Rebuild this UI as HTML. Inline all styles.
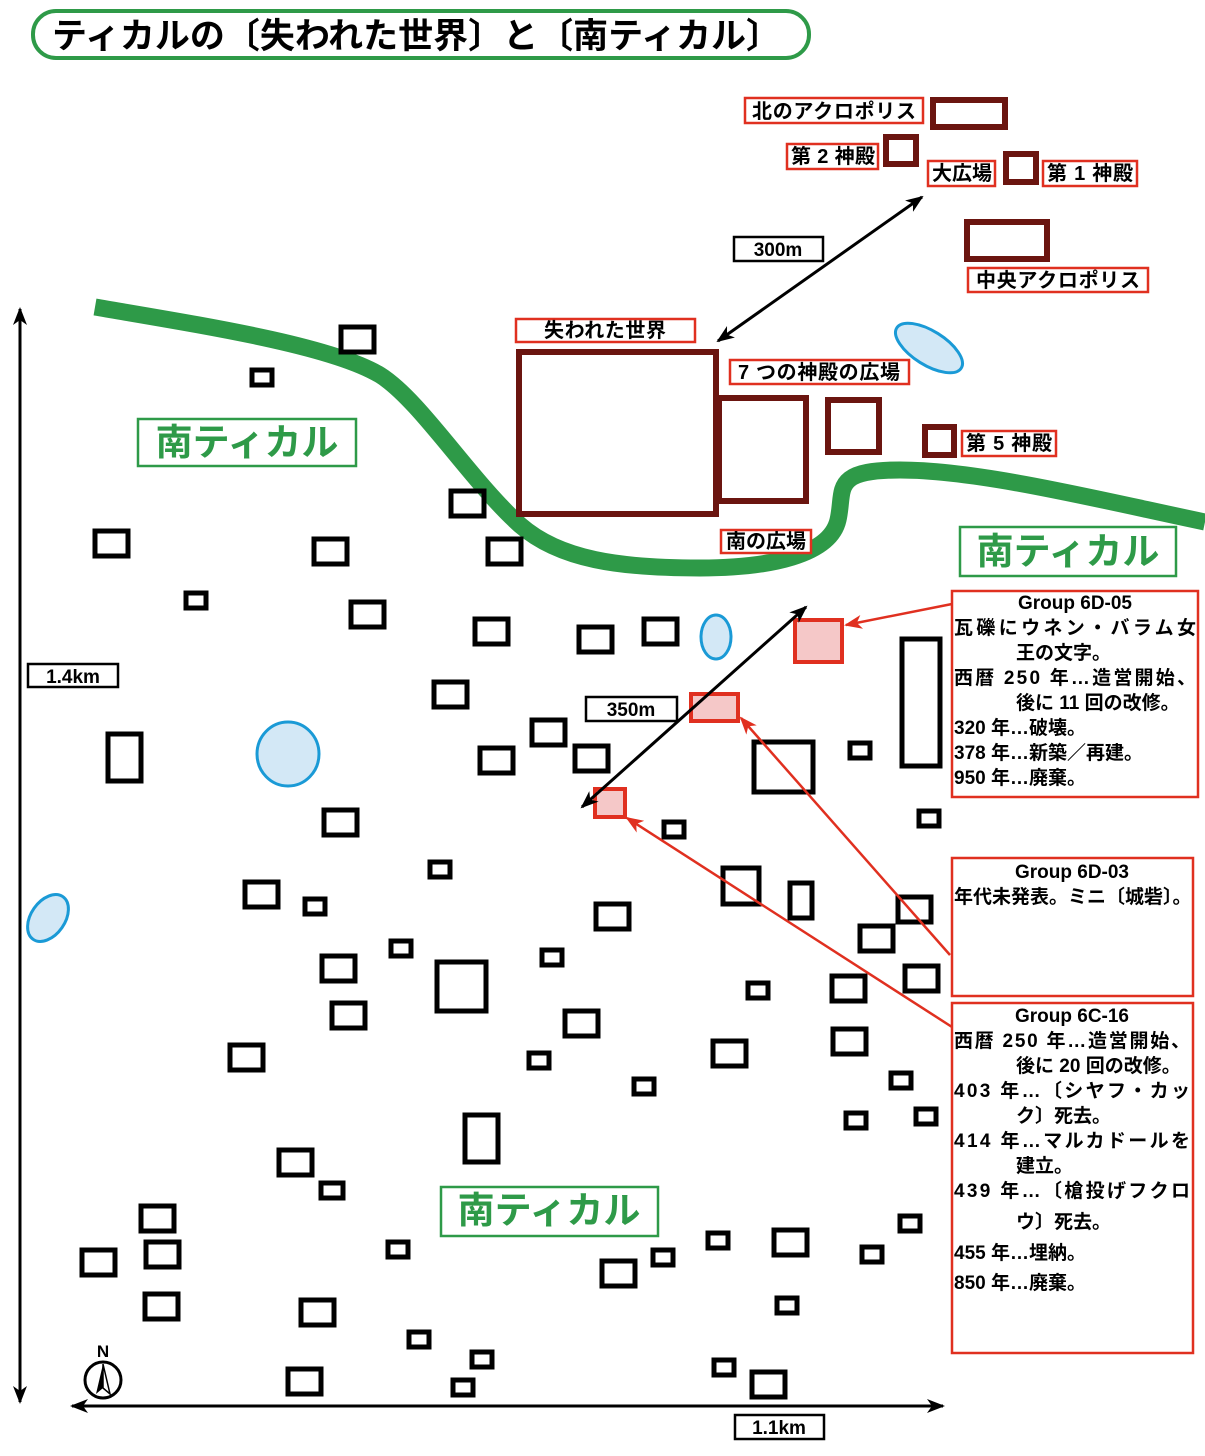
<!DOCTYPE html>
<html><head><meta charset="utf-8"><style>
body{margin:0;background:#fff;}
svg text{font-family:"Liberation Sans","Noto Sans CJK JP",sans-serif;font-weight:bold;}
</style></head><body>
<svg width="1205" height="1451" viewBox="0 0 1205 1451" xmlns="http://www.w3.org/2000/svg">
<defs>
<marker id="ar" markerWidth="18" markerHeight="14" refX="16" refY="7" orient="auto" markerUnits="userSpaceOnUse"><path d="M0,0 L18,7 L0,14 L5,7z" fill="#e03020"/></marker>
<marker id="ak" markerWidth="18" markerHeight="14" refX="16" refY="7" orient="auto-start-reverse" markerUnits="userSpaceOnUse"><path d="M0,0 L18,7 L0,14 L5,7z" fill="#000"/></marker>
</defs>
<rect x="33" y="11" width="776" height="47" rx="23" fill="#fff" stroke="#2e9a48" stroke-width="4"/>
<text x="52" y="48" font-size="35" fill="#000">ティカルの〔失われた世界〕と〔南ティカル〕</text>

<path d="M95,307 C200,325 330,345 380,375 C420,400 470,480 520,525 C560,560 620,568 700,568 C770,568 830,555 838,520 C845,490 830,470 900,470 C980,470 1100,500 1205,522" fill="none" stroke="#2e9a48" stroke-width="17"/>

<g fill="#d3e8f6" stroke="#1a9ad6" stroke-width="3">
<ellipse cx="929" cy="348" rx="38" ry="17" transform="rotate(32 929 348)"/>
<ellipse cx="716" cy="637" rx="15" ry="22"/>
<ellipse cx="288" cy="754" rx="31" ry="32"/>
<ellipse cx="48" cy="918" rx="17" ry="26" transform="rotate(35 48 918)"/>
</g>

<g fill="none" stroke="#000" stroke-width="5">
<rect x="341" y="327" width="33" height="25"/><rect x="252" y="370" width="20" height="15"/>
<rect x="451" y="491" width="33" height="25"/><rect x="95" y="531" width="33" height="25"/>
<rect x="314" y="539" width="33" height="25"/><rect x="488" y="539" width="33" height="25"/>
<rect x="186" y="593" width="20" height="15"/><rect x="351" y="602" width="33" height="25"/>
<rect x="475" y="619" width="33" height="25"/><rect x="579" y="627" width="33" height="25"/>
<rect x="644" y="619" width="33" height="25"/><rect x="434" y="682" width="33" height="25"/>
<rect x="532" y="720" width="33" height="25"/><rect x="480" y="748" width="33" height="25"/>
<rect x="575" y="746" width="33" height="25"/><rect x="108" y="734" width="33" height="47"/>
<rect x="902" y="639" width="38" height="127"/><rect x="754" y="742" width="59" height="50"/>
<rect x="850" y="743" width="20" height="15"/><rect x="324" y="810" width="33" height="25"/>
<rect x="664" y="822" width="20" height="15"/><rect x="919" y="811" width="20" height="15"/>
<rect x="430" y="862" width="20" height="15"/><rect x="245" y="882" width="33" height="25"/>
<rect x="305" y="899" width="20" height="15"/><rect x="723" y="868" width="36" height="36"/>
<rect x="790" y="883" width="22" height="35"/><rect x="596" y="904" width="33" height="25"/>
<rect x="898" y="897" width="33" height="25"/><rect x="860" y="926" width="33" height="25"/>
<rect x="391" y="941" width="20" height="15"/><rect x="542" y="950" width="20" height="15"/>
<rect x="322" y="956" width="33" height="25"/><rect x="437" y="962" width="49" height="49"/>
<rect x="905" y="966" width="33" height="25"/><rect x="832" y="976" width="33" height="25"/>
<rect x="748" y="983" width="20" height="15"/><rect x="332" y="1003" width="33" height="25"/>
<rect x="565" y="1011" width="33" height="25"/><rect x="833" y="1029" width="33" height="25"/>
<rect x="230" y="1045" width="33" height="25"/><rect x="713" y="1041" width="33" height="25"/>
<rect x="529" y="1053" width="20" height="15"/><rect x="634" y="1079" width="20" height="15"/>
<rect x="891" y="1073" width="20" height="15"/><rect x="846" y="1113" width="20" height="15"/>
<rect x="916" y="1109" width="20" height="15"/><rect x="465" y="1115" width="33" height="47"/>
<rect x="279" y="1150" width="33" height="25"/><rect x="321" y="1183" width="22" height="15"/>
<rect x="141" y="1206" width="33" height="25"/><rect x="146" y="1242" width="33" height="25"/>
<rect x="82" y="1250" width="33" height="25"/><rect x="900" y="1216" width="20" height="15"/>
<rect x="388" y="1242" width="20" height="15"/><rect x="708" y="1233" width="20" height="15"/>
<rect x="774" y="1230" width="33" height="25"/><rect x="653" y="1250" width="20" height="15"/>
<rect x="862" y="1247" width="20" height="15"/><rect x="602" y="1261" width="33" height="25"/>
<rect x="145" y="1294" width="33" height="25"/><rect x="301" y="1300" width="33" height="25"/>
<rect x="777" y="1298" width="20" height="15"/><rect x="409" y="1332" width="20" height="15"/>
<rect x="472" y="1352" width="20" height="15"/><rect x="288" y="1369" width="33" height="25"/>
<rect x="714" y="1360" width="20" height="15"/><rect x="453" y="1380" width="20" height="15"/>
<rect x="752" y="1372" width="33" height="25"/>
</g>

<g fill="none" stroke="#6b1510" stroke-width="6">
<rect x="933" y="100" width="72" height="27"/><rect x="886" y="137" width="30" height="27"/>
<rect x="1006" y="154" width="30" height="28"/><rect x="967" y="222" width="80" height="37"/>
<rect x="519" y="352" width="197" height="162"/><rect x="719" y="398" width="87" height="103"/>
<rect x="828" y="400" width="51" height="52"/><rect x="925" y="427" width="29" height="28"/>
</g>

<g fill="#f5c8c8" stroke="#e03020" stroke-width="4">
<rect x="795" y="620" width="47" height="42"/><rect x="691" y="694" width="47" height="27"/>
<rect x="595" y="789" width="30" height="28"/>
</g>

<g fill="#fff" stroke="#e03020" stroke-width="2.5">
<rect x="745" y="98" width="178" height="25"/><rect x="787" y="144" width="91" height="25"/>
<rect x="928" y="161" width="67" height="25"/><rect x="1043" y="161" width="94" height="25"/>
<rect x="968" y="268" width="180" height="24"/><rect x="516" y="319" width="179" height="23"/>
<rect x="730" y="360" width="179" height="24"/><rect x="962" y="431" width="94" height="25"/>
<rect x="721" y="530" width="90" height="23"/>
</g>
<g font-size="20" fill="#000">
<text x="752" y="118" textLength="164">北のアクロポリス</text><text x="791" y="163" textLength="84">第 2 神殿</text>
<text x="932" y="180">大広場</text><text x="1047" y="180" textLength="86">第 1 神殿</text>
<text x="976" y="287" textLength="164">中央アクロポリス</text><text x="544" y="337" textLength="122">失われた世界</text>
<text x="738" y="379" textLength="162">7 つの神殿の広場</text><text x="966" y="450" textLength="86">第 5 神殿</text>
<text x="726" y="548">南の広場</text>
</g>

<g fill="#fff" stroke="#000" stroke-width="2.5">
<rect x="734" y="237" width="89" height="24"/><rect x="586" y="697" width="91" height="24"/>
<rect x="28" y="664" width="90" height="23"/><rect x="735" y="1415" width="89" height="24"/>
</g>
<g font-size="19" fill="#000" text-anchor="middle">
<text x="778" y="256">300m</text><text x="631" y="716">350m</text>
<text x="73" y="683">1.4km</text><text x="779" y="1434">1.1km</text>
</g>

<g fill="#fff" stroke="#2e9a48" stroke-width="2.5">
<rect x="138" y="419" width="218" height="47"/><rect x="960" y="527" width="216" height="49"/>
<rect x="441" y="1187" width="217" height="49"/>
</g>
<g font-size="37" fill="#2e9a48" text-anchor="middle">
<text x="247" y="455">南ティカル</text><text x="1068" y="564">南ティカル</text>
<text x="549" y="1223">南ティカル</text>
</g>

<g stroke="#000" stroke-width="3" fill="none">
<line x1="718" y1="341" x2="922" y2="197" marker-start="url(#ak)" marker-end="url(#ak)"/>
<line x1="582" y1="807" x2="806" y2="607" marker-start="url(#ak)" marker-end="url(#ak)"/>
<line x1="20" y1="309" x2="20" y2="1402" marker-start="url(#ak)" marker-end="url(#ak)"/>
<line x1="72" y1="1406" x2="943" y2="1406" marker-start="url(#ak)" marker-end="url(#ak)"/>
</g>

<g stroke="#e03020" stroke-width="2.5" fill="none">
<line x1="952" y1="604" x2="846" y2="625" marker-end="url(#ar)"/>
<line x1="950" y1="955" x2="741" y2="718" marker-end="url(#ar)"/>
<line x1="952" y1="1027" x2="627" y2="818" marker-end="url(#ar)"/>
</g>

<g fill="#fff" stroke="#e03020" stroke-width="2.5">
<rect x="952" y="591" width="246" height="206"/><rect x="952" y="858" width="241" height="138"/>
<rect x="952" y="1003" width="241" height="350"/>
</g>
<g font-size="19" fill="#000">
<text x="1075" y="609" text-anchor="middle">Group 6D-05</text>
<text x="954" y="634" textLength="242">瓦礫にウネン・バラム女</text>
<text x="1016" y="659">王の文字。</text>
<text x="954" y="684" textLength="242">西暦 250 年…造営開始、</text>
<text x="1016" y="709">後に 11 回の改修。</text>
<text x="954" y="734">320 年…破壊。</text>
<text x="954" y="759">378 年…新築／再建。</text>
<text x="954" y="784">950 年…廃棄。</text>
<text x="1072" y="878" text-anchor="middle">Group 6D-03</text>
<text x="954" y="903">年代未発表。ミニ〔城砦〕。</text>
<text x="1072" y="1022" text-anchor="middle">Group 6C-16</text>
<text x="954" y="1047" textLength="236">西暦 250 年…造営開始、</text>
<text x="1016" y="1072">後に 20 回の改修。</text>
<text x="954" y="1097" textLength="236">403 年…〔シヤフ・カッ</text>
<text x="1016" y="1122">ク〕死去。</text>
<text x="954" y="1147" textLength="236">414 年…マルカドールを</text>
<text x="1016" y="1172">建立。</text>
<text x="954" y="1197" textLength="236">439 年…〔槍投げフクロ</text>
<text x="1016" y="1228">ウ〕死去。</text>
<text x="954" y="1259">455 年…埋納。</text>
<text x="954" y="1289">850 年…廃棄。</text>
</g>

<circle cx="103" cy="1380" r="18" fill="#fff" stroke="#000" stroke-width="3"/>
<path d="M103,1364 L96,1394 L103,1388z" fill="#000"/>
<path d="M103,1364 L110,1394 L103,1388z" fill="#fff" stroke="#000" stroke-width="1.5"/>
<text x="103" y="1357" font-size="17" text-anchor="middle" fill="#000">N</text>
</svg>
</body></html>
